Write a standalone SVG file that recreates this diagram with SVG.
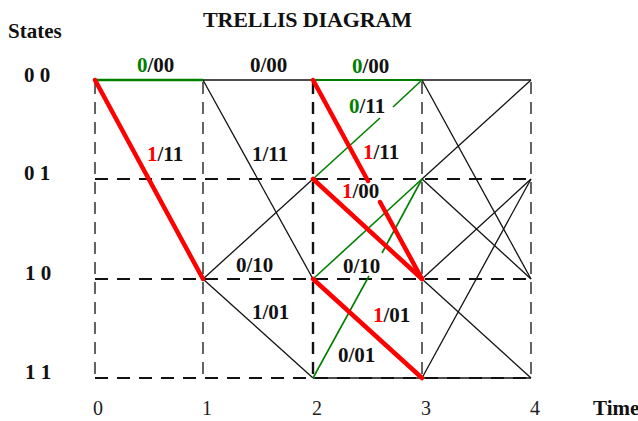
<svg xmlns="http://www.w3.org/2000/svg" width="638" height="421" viewBox="0 0 638 421">
<style>
text{font-family:"Liberation Serif","Times New Roman",serif;font-size:21px;font-weight:bold;fill:#111}
.ax{font-weight:normal;font-size:20px;fill:#222}
.g{fill:#008000}
.r{fill:#ff0000}
.grid line{stroke:#111;fill:none}
.hd{stroke-width:2.2;stroke-dasharray:13 9}
.vd{stroke-width:1.3;stroke-dasharray:12 8;stroke:#333}
.vdt{stroke-width:2.4;stroke-dasharray:12 8}
.e{stroke:#111;stroke-width:1.3;fill:none}
.eg{stroke:#008000;stroke-width:1.6;fill:none}
.er{stroke:#ff0000;stroke-width:4.5;fill:none;stroke-linecap:round}
</style>
<rect width="638" height="421" fill="#fff"/>
<text x="203" y="27" style="font-size:22px" textLength="209">TRELLIS DIAGRAM</text>
<text x="8" y="38">States</text>
<g id="state-00"><text x="24" y="82">0 0</text></g>
<g id="state-01"><text x="24" y="180">0 1</text></g>
<g id="state-10"><text x="25" y="280">1 0</text></g>
<g id="state-11"><text x="25" y="379">1 1</text></g>
<g id="time-axis">
<text class="ax" x="93" y="415">0</text>
<text class="ax" x="202" y="415">1</text>
<text class="ax" x="312" y="415">2</text>
<text class="ax" x="421" y="415">3</text>
<text class="ax" x="530" y="415">4</text>
<text x="593" y="415">Time</text>
</g>
<g id="grid" class="grid">
<line class="vd" x1="95" y1="82" x2="95" y2="378"/>
<line class="vd" x1="203" y1="82" x2="203" y2="378"/>
<line class="vdt" x1="313" y1="82" x2="313" y2="378"/>
<line class="vd" x1="422" y1="82" x2="422" y2="378"/>
<line class="vd" x1="531" y1="82" x2="531" y2="378"/>
<line class="hd" x1="95" y1="179" x2="531" y2="179"/>
<line class="hd" x1="95" y1="279" x2="531" y2="279"/>
<line class="hd" x1="95" y1="378" x2="531" y2="378"/>
</g>
<g id="connectors">
<line class="e" x1="203" y1="80" x2="313" y2="80"/>
<line class="e" x1="422" y1="80" x2="531" y2="80"/>
<line class="e" x1="313" y1="378" x2="531" y2="378"/>
<line class="e" x1="203" y1="80" x2="313" y2="279"/>
<line class="e" x1="203" y1="279" x2="313" y2="179"/>
<line class="e" x1="203" y1="279" x2="313" y2="378"/>
<line class="e" x1="422" y1="80" x2="531" y2="279"/>
<line class="e" x1="422" y1="179" x2="531" y2="80"/>
<line class="e" x1="422" y1="179" x2="531" y2="279"/>
<line class="e" x1="422" y1="279" x2="531" y2="179"/>
<line class="e" x1="422" y1="279" x2="531" y2="378"/>
<line class="e" x1="422" y1="378" x2="531" y2="179"/>
<line class="eg" style="stroke-width:2.6" x1="95" y1="80" x2="203" y2="80"/>
<line class="eg" style="stroke-width:2.2" x1="313" y1="80" x2="422" y2="80"/>
<line class="eg" x1="313" y1="179" x2="380" y2="118"/>
<line class="eg" x1="393" y1="107" x2="422" y2="80"/>
<line class="eg" x1="313" y1="279" x2="422" y2="179"/>
<line class="eg" x1="313" y1="378" x2="369" y2="276"/>
<line class="eg" x1="382" y1="253" x2="422" y2="179"/>
<line class="er" x1="95" y1="80" x2="203" y2="279"/>
<line class="er" x1="313" y1="80" x2="368" y2="181"/>
<line class="er" x1="380" y1="202" x2="422" y2="279"/>
<line class="er" x1="313" y1="179" x2="422" y2="279"/>
<line class="er" x1="313" y1="279" x2="422" y2="378"/>
</g>
<g id="labels">
<text x="137" y="72"><tspan class="g">0</tspan>/00</text>
<text x="250" y="72">0/00</text>
<text x="352" y="73"><tspan class="g">0</tspan>/00</text>
<text x="147" y="161"><tspan class="r">1</tspan>/11</text>
<text x="252" y="161">1/11</text>
<text x="349" y="113"><tspan class="g">0</tspan>/11</text>
<text x="363" y="159"><tspan class="r">1</tspan>/11</text>
<text x="342" y="198"><tspan class="r">1</tspan>/00</text>
<text x="236" y="272">0/10</text>
<text x="252" y="319">1/01</text>
<text x="343" y="273">0/10</text>
<text x="373" y="322"><tspan class="r">1</tspan>/01</text>
<text x="338" y="362">0/01</text>
</g>
</svg>
